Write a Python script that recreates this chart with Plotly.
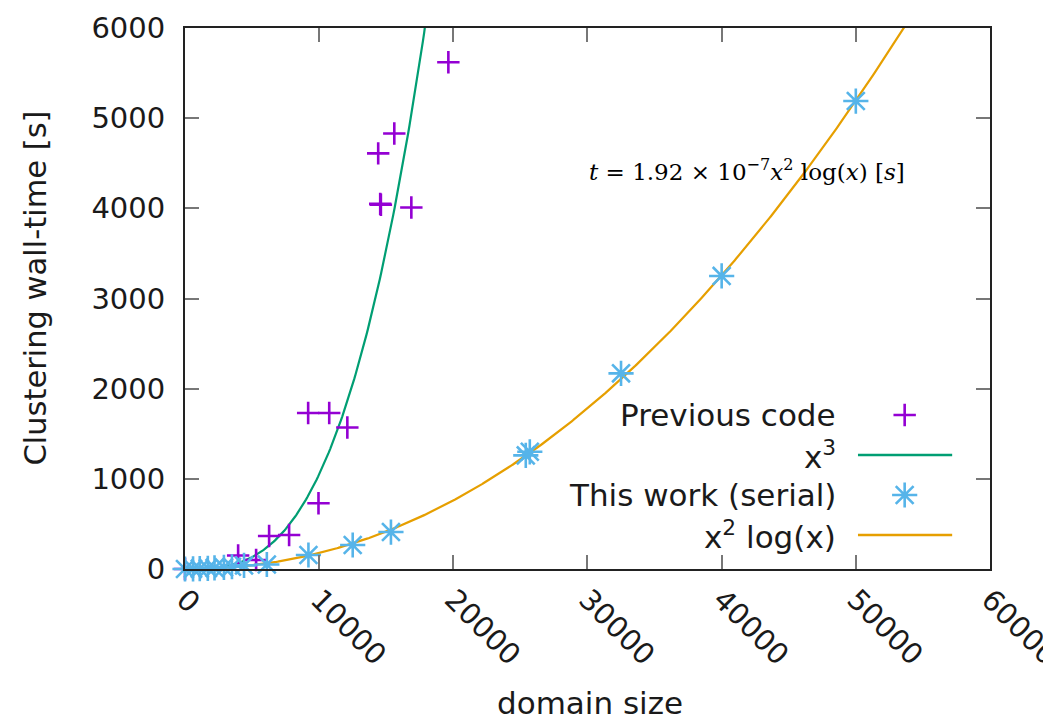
import numpy as np
import plotly.graph_objects as go

# ---------------- data ----------------
prev_x = [0, 3960, 5300, 6270, 7760, 9180, 9950, 10750, 12100, 14400, 14550, 14600, 15600, 16870, 19630]
prev_y = [0, 150, 100, 366, 377, 1730, 730, 1730, 1570, 4610, 4050, 4040, 4830, 4010, 5620]

serial_x = [0, 600, 1100, 1700, 2200, 2900, 3500, 4400, 6100, 9200, 12500, 15350, 25400, 25700, 32500, 40000, 50000]
serial_y = [0, 2, 4, 8, 12, 18, 25, 40, 50, 155, 266, 410, 1260, 1300, 2170, 3250, 5190]

cubic_coef = 1.05e-9      # fitted x^3 curve
nlogn_coef = 1.92e-7      # fitted x^2 log(x) curve

x_ticks = [0, 10000, 20000, 30000, 40000, 50000, 60000]
y_ticks = [0, 1000, 2000, 3000, 4000, 5000, 6000]

legend_labels = ["Previous code", "x<sup>3</sup>", "This work (serial)", "x<sup>2</sup> log(x)"]
x_title = "domain size"
y_title = "Clustering wall-time [s]"

PURPLE = "#9400d3"
GREEN = "#009e73"
BLUE = "#56b4e9"
ORANGE = "#e69f00"
TEXT = "#1a1a1a"
FONT = "DejaVu Sans"

xs = np.linspace(1, 60000, 600)
cubic_y = cubic_coef * xs ** 3
nlogn_y = nlogn_coef * xs ** 2 * np.log(xs)

plus_marker = dict(symbol="cross-thin", size=16, color=PURPLE,
                   line=dict(color=PURPLE, width=2.6))
star_marker = dict(symbol="asterisk", size=21, color=BLUE,
                   line=dict(color=BLUE, width=2.6))

fig = go.Figure()

fig.add_trace(go.Scatter(x=xs, y=cubic_y, mode="lines",
                         line=dict(color=GREEN, width=2.2), showlegend=False))
fig.add_trace(go.Scatter(x=xs, y=nlogn_y, mode="lines",
                         line=dict(color=ORANGE, width=2.2), showlegend=False))
fig.add_trace(go.Scatter(x=prev_x, y=prev_y, mode="markers", cliponaxis=False,
                         marker=plus_marker, showlegend=False))
fig.add_trace(go.Scatter(x=serial_x, y=serial_y, mode="markers", cliponaxis=False,
                         marker=star_marker, showlegend=False))

# ---- custom gnuplot-style legend (text right, sample left) ----
row_y = [0.2847, 0.2107, 0.1368, 0.0628]
text_x = 0.811
sample_x = 0.894
line_x0, line_x1 = 0.836, 0.953

for lbl, ry in zip(legend_labels, row_y):
    fig.add_annotation(x=text_x, y=ry, xref="paper", yref="paper",
                       text=lbl, showarrow=False, xanchor="right", yanchor="middle",
                       font=dict(family=FONT, size=31, color=TEXT))

fig.add_trace(go.Scatter(x=[sample_x], y=[row_y[0]], xaxis="x2", yaxis="y2", mode="markers",
                         marker=plus_marker, showlegend=False, cliponaxis=False))
fig.add_trace(go.Scatter(x=[sample_x], y=[row_y[2]], xaxis="x2", yaxis="y2", mode="markers",
                         marker=star_marker, showlegend=False, cliponaxis=False))
for ry, col in ((row_y[1], GREEN), (row_y[3], ORANGE)):
    fig.add_shape(type="line", xref="paper", yref="paper",
                  x0=line_x0, x1=line_x1, y0=ry, y1=ry,
                  line=dict(color=col, width=2.5))

# formula annotation
fig.add_annotation(x=0.499, y=0.7375, xref="paper", yref="paper", showarrow=False,
                   xanchor="left", yanchor="middle",
                   text="<i>t</i> = 1.92 × 10<sup>−7</sup><i>x</i><sup>2</sup> log(<i>x</i>) [<i>s</i>]",
                   font=dict(family="DejaVu Serif", size=23, color="black"))

# axis titles (placed like gnuplot's)
fig.add_annotation(x=-0.186, y=0.519, xref="paper", yref="paper", showarrow=False,
                   xanchor="center", yanchor="middle", textangle=-90, text=y_title,
                   font=dict(family=FONT, size=30.5, color=TEXT))
fig.add_annotation(x=0.503, y=-0.247, xref="paper", yref="paper", showarrow=False,
                   xanchor="center", yanchor="middle", text=x_title,
                   font=dict(family=FONT, size=31, color=TEXT))

axis_common = dict(showgrid=False, zeroline=False, showline=True, linecolor="#222222",
                   linewidth=2, mirror="allticks", ticks="inside", ticklen=14,
                   tickwidth=1.5, tickcolor="#777777", automargin=False,
                   ticklabeloverflow="allow",
                   tickfont=dict(family=FONT, size=29, color=TEXT))

fig.update_layout(
    width=1051, height=721,
    margin=dict(l=177, r=69, t=20, b=160),
    paper_bgcolor="white", plot_bgcolor="white",
    xaxis=dict(range=[0, 60001], tickmode="array", tickvals=x_ticks,
               ticktext=[str(v) for v in x_ticks], tickangle=45,
               **axis_common),
    yaxis=dict(range=[0, 6000], tickmode="array", tickvals=y_ticks,
               ticktext=[str(v) for v in y_ticks], ticklabelstandoff=12,
               **axis_common),
    xaxis2=dict(range=[0, 1], overlaying="x", visible=False),
    yaxis2=dict(range=[0, 1], overlaying="y", visible=False),
    font=dict(family=FONT),
)

fig.write_html("out.html")
